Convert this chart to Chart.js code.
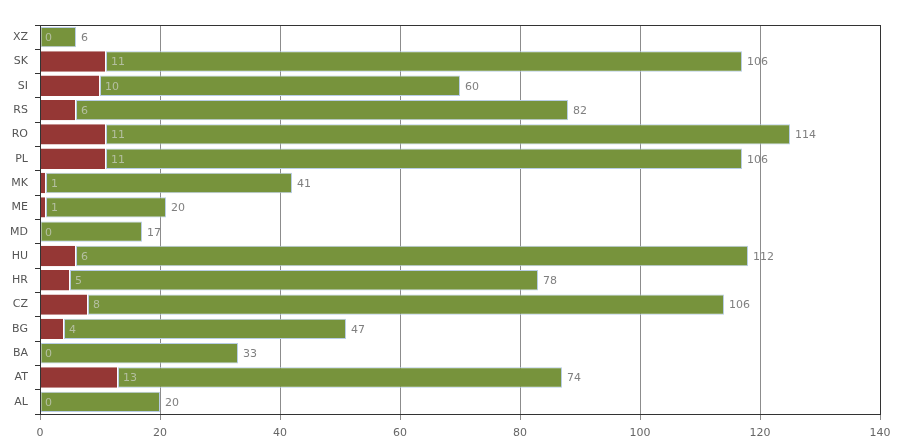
<!DOCTYPE html>
<html lang="en">
<head>
    <meta charset="UTF-8">
    <title>Stacked bars by country</title>
    <style>
        body {
          margin: 0;
          padding: 0;
          background: #fff;
        }
        .wrap {
          width: 900px;
          height: 445px;
        }
    </style>
</head>
<body>
<div class="wrap">
    <canvas id="chart" width="900" height="445"></canvas>
</div>

<script src="https://cdn.jsdelivr.net/npm/chart.js"></script>
<script>
    // Data (top to bottom)
    const countries = ['XZ', 'SK', 'SI', 'RS', 'RO', 'PL', 'MK', 'ME', 'MD', 'HU', 'HR', 'CZ', 'BG', 'BA', 'AT', 'AL'];
    const redValues = [0, 11, 10, 6, 11, 11, 1, 1, 0, 6, 5, 8, 4, 0, 13, 0];
    const greenValues = [6, 106, 60, 82, 114, 106, 41, 20, 17, 112, 78, 106, 47, 33, 74, 20];
    const xTicks = [0, 20, 40, 60, 80, 100, 120, 140];

    const FONT = 'Verdana, "DejaVu Sans", sans-serif';

    // draws value labels and the frame around the plot
    const labelPlugin = {
      id: 'valueLabels',
      afterDatasetsDraw(chart) {
        const ctx = chart.ctx;
        const area = chart.chartArea;
        ctx.save();
        ctx.font = '11px ' + FONT;
        ctx.textBaseline = 'middle';
        ctx.textAlign = 'left';

        const redMeta = chart.getDatasetMeta(0);
        const greenMeta = chart.getDatasetMeta(1);

        redMeta.data.forEach((bar, i) => {
          ctx.fillStyle = '#b4bfa0';
          ctx.fillText(String(redValues[i]), bar.x + 5, bar.y + 1);
        });
        greenMeta.data.forEach((bar, i) => {
          ctx.fillStyle = '#7f7f7f';
          ctx.fillText(String(greenValues[i]), bar.x + 5, bar.y + 1);
        });

        // frame
        ctx.strokeStyle = '#333';
        ctx.lineWidth = 1;
        ctx.strokeRect(Math.round(area.left) + 0.5, Math.round(area.top) + 0.5,
          Math.round(area.right - area.left), Math.round(area.bottom - area.top));
        ctx.restore();
      }
    };

    const ctx = document.getElementById('chart').getContext('2d');
    const chart = new Chart(ctx, {
      type: 'bar',
      data: {
        labels: countries,
        datasets: [
          {
            label: 'red',
            data: redValues,
            backgroundColor: '#953735',
            borderColor: '#ffffff',
            borderWidth: {right: 1},
            borderSkipped: false,
            categoryPercentage: 1,
            barPercentage: 0.84
          },
          {
            label: 'green',
            data: greenValues,
            backgroundColor: '#77933c',
            borderColor: '#b9cde5',
            borderWidth: 1,
            borderSkipped: false,
            categoryPercentage: 1,
            barPercentage: 0.84
          }
        ]
      },
      options: {
        indexAxis: 'y',
        responsive: false,
        animation: false,
        layout: {
          padding: {top: 25, right: 20, bottom: 0, left: 0}
        },
        plugins: {
          legend: {display: false},
          tooltip: {enabled: false}
        },
        scales: {
          x: {
            stacked: true,
            min: 0,
            max: 140,
            afterBuildTicks(scale) {
              scale.ticks = xTicks.map(v => ({value: v}));
            },
            grid: {
              color: '#8c8c8c',
              tickLength: 6,
              drawBorder: true
            },
            border: {color: '#333'},
            ticks: {
              color: '#666',
              padding: 7,
              font: {family: FONT, size: 11}
            },
            afterFit(scale) {
              scale.height = 31;
            }
          },
          y: {
            stacked: true,
            grid: {
              drawOnChartArea: false,
              color: '#333',
              tickLength: 5,
              offset: true
            },
            border: {color: '#333'},
            ticks: {
              color: '#555',
              padding: 7,
              font: {family: FONT, size: 11}
            },
            afterFit(scale) {
              scale.width = 40;
            }
          }
        }
      },
      plugins: [labelPlugin]
    });
</script>
</body>
</html>
